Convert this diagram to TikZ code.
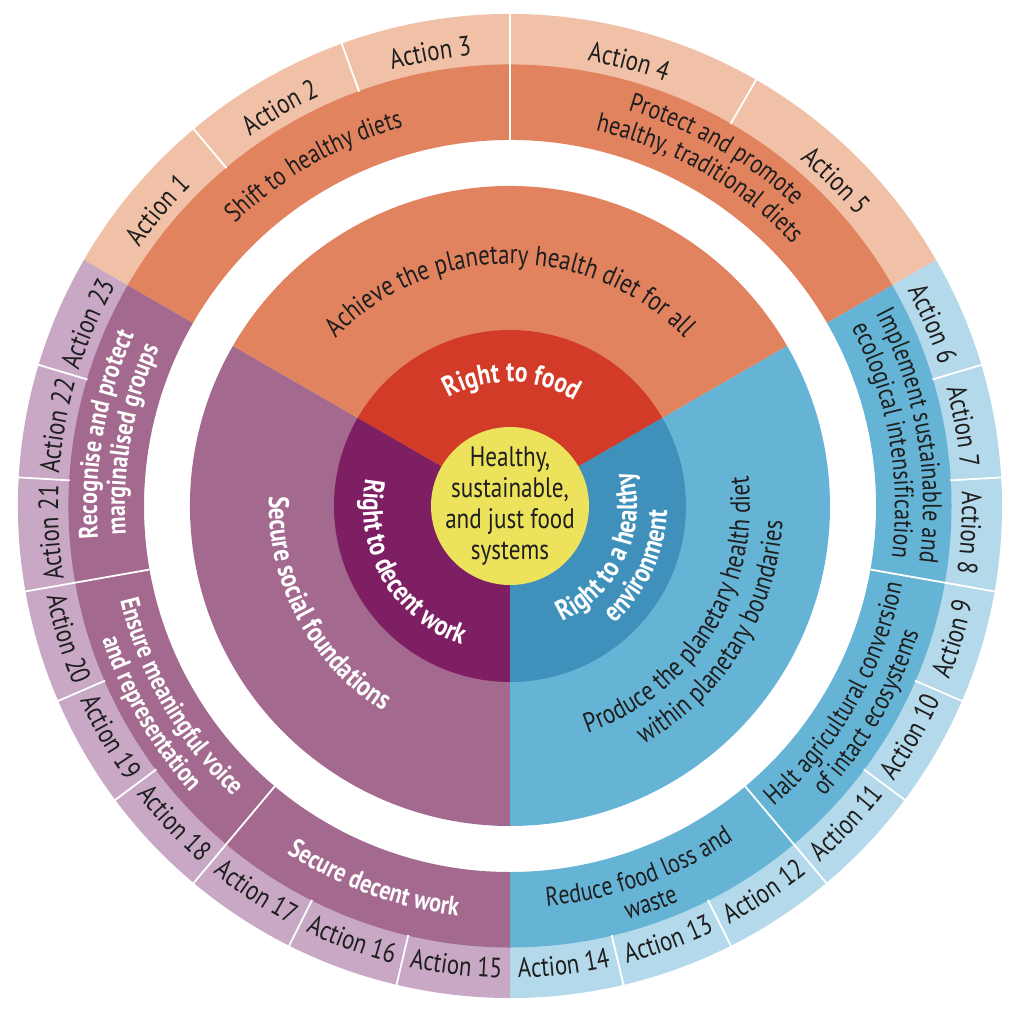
\documentclass[tikz,border=0pt]{standalone}
\usepackage{fontspec}
\setmainfont{PT Sans}[FakeStretch=0.82]
\usetikzlibrary{decorations.text}
\definecolor{orA}{HTML}{F0C1A6}
\definecolor{orB}{HTML}{E1835F}
\definecolor{redC}{HTML}{D23B27}
\definecolor{puA}{HTML}{C8A8C5}
\definecolor{puB}{HTML}{A3698F}
\definecolor{puC}{HTML}{7F1F63}
\definecolor{blA}{HTML}{B4D9EA}
\definecolor{blB}{HTML}{66B4D5}
\definecolor{blC}{HTML}{3F91BC}
\definecolor{yel}{HTML}{EDE25B}
\definecolor{ink}{HTML}{1E1E1E}
\newcommand\fsAct{\fontsize{27.9pt}{32pt}\selectfont}
\newcommand\fsStr{\fontsize{26.8pt}{31pt}\selectfont}
\newcommand\fsStrB{\fontsize{26.8pt}{31pt}\selectfont\bfseries}
\newcommand\fsMid{\fontsize{27.9pt}{32pt}\selectfont}
\newcommand\fsMidB{\fontsize{28.5pt}{32pt}\selectfont\bfseries}
\newcommand\fsRight{\fontsize{28.6pt}{32pt}\selectfont\bfseries}
\newcommand\fsCen{\fontsize{28.2pt}{31pt}\selectfont}
% annular segment: color, a1, a2, rin, rout
\newcommand\annseg[5]{\fill[#1] (#2:#5pt) arc[start angle=#2,end angle=#3,radius=#5pt] -- (#3:#4pt) arc[start angle=#3,end angle=#2,radius=#4pt] -- cycle;}
% text along arc: radius, centre angle, half span, colour, format, text
\newcommand\cwtext[6]{\path[decorate,decoration={text along path,text align=center,text color=#4,text={|#5|#6}}] (#2+#3:#1pt) arc[start angle=#2+#3,end angle=#2-#3,radius=#1pt];}
\newcommand\ccwtext[6]{\path[decorate,decoration={text along path,text align=center,text color=#4,text={|#5|#6}}] (#2-#3:#1pt) arc[start angle=#2-#3,end angle=#2+#3,radius=#1pt];}
\begin{document}
\begin{tikzpicture}[divider/.style={white,line width=1.8pt}]
\useasboundingbox (-510pt,-515pt) rectangle (514pt,506pt);
% action ring
\annseg{orA}{30}{150}{441}{492}
\annseg{blA}{-90}{30}{441}{492}
\annseg{puA}{150}{270}{441}{492}
% strategy ring
\annseg{orB}{30}{150}{366}{441.5}
\annseg{blB}{-90}{30}{366}{441.5}
\annseg{puB}{150}{270}{366}{441.5}
% middle ring
\fill[orB] (0,0) -- (30:320pt) arc[start angle=30,end angle=150,radius=320pt] -- cycle;
\fill[puB] (0,0) -- (150:320pt) arc[start angle=150,end angle=270,radius=320pt] -- cycle;
\fill[blB] (0,0) -- (270:320pt) arc[start angle=270,end angle=390,radius=320pt] -- cycle;
% rights ring
\fill[redC] (0,0) -- (30:176pt) arc[start angle=30,end angle=150,radius=176pt] -- cycle;
\fill[puC] (0,0) -- (150:176pt) arc[start angle=150,end angle=270,radius=176pt] -- cycle;
\fill[blC] (0,0) -- (270:176pt) arc[start angle=270,end angle=390,radius=176pt] -- cycle;
% centre
\fill[yel] (0,0) circle[radius=79pt];
% dividers
\foreach \a in {130,110,60,16.667,3.333,-23.333,-36.667,-63.333,-76.667,163.333,176.667,203.333,216.667,243.333,256.667}
  \draw[divider] (\a:441pt) -- (\a:494pt);
\foreach \a in {90,-10,-50,190,230}
  \draw[divider] (\a:366pt) -- (\a:494pt);
% actions
\cwtext{452}{140}{30}{ink}{\fsAct}{Action 1}
\cwtext{452}{120}{30}{ink}{\fsAct}{Action 2}
\cwtext{452}{100}{30}{ink}{\fsAct}{Action 3}
\cwtext{452}{75}{30}{ink}{\fsAct}{Action 4}
\cwtext{452}{45}{30}{ink}{\fsAct}{Action 5}
\cwtext{452}{23.333}{30}{ink}{\fsAct}{Action 6}
\cwtext{452}{10}{30}{ink}{\fsAct}{Action 7}
\cwtext{452}{-3.333}{30}{ink}{\fsAct}{Action 8}
\ccwtext{472}{-16.667}{30}{ink}{\fsAct}{Action 9}
\ccwtext{472}{-30}{30}{ink}{\fsAct}{Action 10}
\ccwtext{472}{-43.333}{30}{ink}{\fsAct}{Action 11}
\ccwtext{472}{-56.667}{30}{ink}{\fsAct}{Action 12}
\ccwtext{472}{-70}{30}{ink}{\fsAct}{Action 13}
\ccwtext{472}{-83.333}{30}{ink}{\fsAct}{Action 14}
\ccwtext{472}{263.333}{30}{ink}{\fsAct}{Action 15}
\ccwtext{472}{250}{30}{ink}{\fsAct}{Action 16}
\ccwtext{472}{236.667}{30}{ink}{\fsAct}{Action 17}
\ccwtext{472}{223.333}{30}{ink}{\fsAct}{Action 18}
\ccwtext{472}{210}{30}{ink}{\fsAct}{Action 19}
\ccwtext{472}{196.667}{30}{ink}{\fsAct}{Action 20}
\cwtext{452}{183.333}{30}{ink}{\fsAct}{Action 21}
\cwtext{452}{170}{30}{ink}{\fsAct}{Action 22}
\cwtext{452}{156.667}{30}{ink}{\fsAct}{Action 23}
% strategies
\cwtext{394}{120}{40}{ink}{\fsStr}{Shift to healthy diets}
\cwtext{413}{60}{40}{ink}{\fsStr}{Protect and promote}
\cwtext{385}{60}{40}{ink}{\fsStr}{healthy, traditional diets}
\cwtext{413}{10}{40}{ink}{\fsStr}{Implement sustainable and}
\cwtext{385}{10}{40}{ink}{\fsStr}{ecological intensification}
\ccwtext{400}{-30}{40}{ink}{\fsStr}{Halt agricultural conversion}
\ccwtext{428}{-30}{40}{ink}{\fsStr}{of intact ecosystems}
\ccwtext{402}{-70.5}{40}{ink}{\fsStr}{Reduce food loss and}
\ccwtext{430}{-70.5}{40}{ink}{\fsStr}{waste}
\ccwtext{413}{250}{40}{white}{\fsStrB}{Secure decent work}
\ccwtext{401}{210}{40}{white}{\fsStrB}{Ensure meaningful voice}
\ccwtext{429}{210}{40}{white}{\fsStrB}{and representation}
\cwtext{413}{170}{40}{white}{\fsStrB}{Recognise and protect}
\cwtext{385}{170}{40}{white}{\fsStrB}{marginalised groups}
% middle ring
\cwtext{242}{90}{80}{ink}{\fsMid}{Achieve the planetary health diet for all}
\ccwtext{241}{208}{80}{white}{\fsMidB}{Secure social foundations}
\ccwtext{240}{-32}{80}{ink}{\fsMid}{Produce the planetary health diet}
\ccwtext{273}{-32}{80}{ink}{\fsMid}{within planetary boundaries}
% rights
\cwtext{124}{89}{80}{white}{\fsRight}{Right to food}
\ccwtext{147}{210}{80}{white}{\fsRight}{Right to decent work}
\ccwtext{127}{-25}{80}{white}{\fsRight}{Right to a healthy}
\ccwtext{157}{-25}{80}{white}{\fsRight}{environment}
% centre text
\node[align=center,text=ink,font=\fsCen,inner sep=0pt] (core) at (0,0) {Healthy,\\sustainable,\\and just food\\systems};
\end{tikzpicture}
\end{document}
